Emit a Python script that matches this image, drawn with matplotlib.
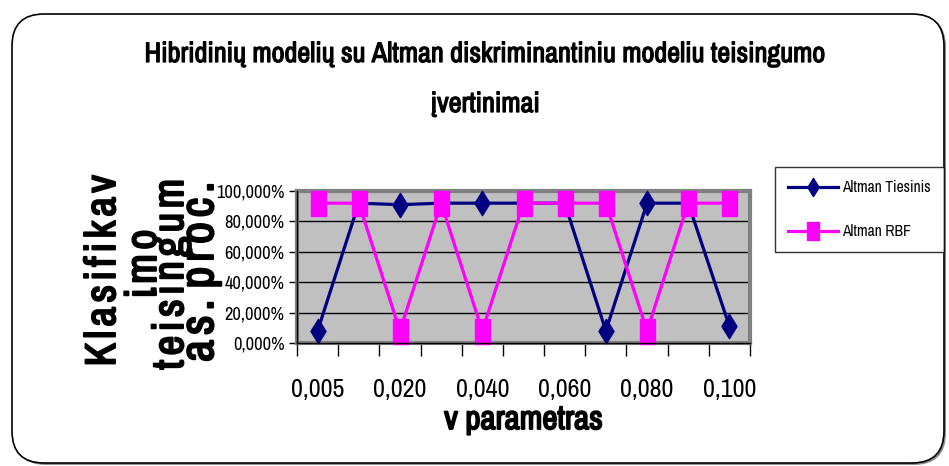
import numpy as np
import matplotlib
matplotlib.use("Agg")
import matplotlib.pyplot as plt
import matplotlib.patheffects as pe
from matplotlib import font_manager
from matplotlib.path import Path
from matplotlib.patches import FancyBboxPatch
from matplotlib.transforms import IdentityTransform
from matplotlib.ticker import FixedLocator, FuncFormatter

# categories of the v parameter and classification accuracy (%)
v_values = ["0,005", "0,010", "0,020", "0,030", "0,040", "0,050",
            "0,060", "0,070", "0,080", "0,090", "0,100"]
altman_tiesinis = [8, 92, 91, 92, 92, 92, 92, 8, 92, 92, 11]
altman_rbf = [92, 92, 8, 92, 8, 92, 92, 92, 8, 92, 92]
y_ticks = [0, 20, 40, 60, 80, 100]

title_lines = ["Hibridinių modelių su Altman diskriminantiniu modeliu teisingumo",
               "įvertinimai"]
# value-axis title, wrapped and letter-spaced with hair spaces
HS = "\u200a"
ylabel_lines = [HS.join("Klasifikav"), HS.join("imo"), HS.join("teisingum"),
                HS.join("as.") + " " + HS.join("proc.")]


def pick_font(names):
    for n in names:
        try:
            font_manager.findfont(font_manager.FontProperties(family=n),
                                  fallback_to_default=False)
            return n
        except ValueError:
            continue
    return "Liberation Sans"


FONT = pick_font(["Liberation Sans Narrow", "Arial Narrow", "Archivo Narrow",
                  "Roboto Condensed", "PT Sans Narrow", "Liberation Sans"])
plt.rcParams["font.family"] = [FONT, "DejaVu Sans"]

W, H = 949, 466
fig = plt.figure(figsize=(W / 100, H / 100), dpi=100)
renderer = fig.canvas.get_renderer()


def fx(x):
    return x / W


def fy(y):
    return 1 - y / H


def heavy(w):
    # thicken the narrow face, it has no bold variant here
    return [pe.withStroke(linewidth=w, foreground="black")]


def size_for(s, target, vertical=False, stroke=0):
    # font size that makes the string span `target` pixels
    t = fig.text(0, 0, s, fontsize=20, rotation=90 if vertical else 0)
    bb = t.get_window_extent(renderer)
    t.remove()
    return 20 * (target - stroke) / (bb.height if vertical else bb.width)


# rounded chart border with a soft shadow
shadow = FancyBboxPatch((14, H - 465), 932, 450,
                        boxstyle="round,pad=0,rounding_size=32",
                        transform=IdentityTransform(), fc="#909090", ec="none", zorder=-11)
frame = FancyBboxPatch((12, H - 463), 932, 449,
                       boxstyle="round,pad=0,rounding_size=32",
                       transform=IdentityTransform(), fc="white", ec="black",
                       lw=1.2, zorder=-10)
fig.add_artist(shadow)
fig.add_artist(frame)

ax = fig.add_axes([fx(297), fy(343), fx(750) - fx(297), fy(191) - fy(343)])
ax.set_facecolor("#C0C0C0")

# tall markers
diamond = Path([(0, -1), (0.62, 0), (0, 1), (-0.62, 0), (0, -1)],
               [Path.MOVETO, Path.LINETO, Path.LINETO, Path.LINETO, Path.CLOSEPOLY])
rect = Path([(-0.6, -1), (0.6, -1), (0.6, 1), (-0.6, 1), (-0.6, -1)],
            [Path.MOVETO, Path.LINETO, Path.LINETO, Path.LINETO, Path.CLOSEPOLY])

x = np.arange(len(v_values))
ax.plot(x, altman_tiesinis, color="#000080", lw=2.3, marker=diamond,
        markersize=17.5, label="Altman Tiesinis", zorder=3, clip_on=False)
ax.plot(x, altman_rbf, color="#FF00FF", lw=2.3, marker=rect,
        markersize=18, label="Altman RBF", zorder=4, clip_on=False)

ax.set_xlim(-0.5, len(v_values) - 0.5)
ax.set_ylim(0, 100)

ax.yaxis.set_major_locator(FixedLocator(y_ticks))
ax.yaxis.set_major_formatter(FuncFormatter(lambda v, p: f"{v:.3f}%".replace(".", ",")))
ax.grid(axis="y", color="black", lw=1.0)
ax.set_axisbelow(True)
ax.tick_params(axis="y", direction="out", length=6, width=1,
               labelsize=size_for("100,000%", 68), pad=3)

ax.set_xticks(x[::2])
ax.set_xticklabels(v_values[::2])
ax.set_xticks(np.arange(-0.5, len(v_values)), minor=True)
ax.tick_params(axis="x", which="major", length=0,
               labelsize=size_for("0,005", 54), pad=25)
ax.tick_params(axis="x", which="minor", direction="out", length=9, width=1)

# gray plot-area border, black value and category axes
for s in ax.spines.values():
    s.set_color("#808080")
    s.set_linewidth(3)
ax.plot([0, 0], [0, 1], transform=ax.transAxes, color="black", lw=1, clip_on=False, zorder=5)
ax.plot([0, 1], [0, 0], transform=ax.transAxes, color="black", lw=1, clip_on=False, zorder=5)

ax.set_xlabel("v parametras", fontsize=size_for("v parametras", 160, stroke=1.5),
              va="baseline", path_effects=heavy(1.3))
ax.xaxis.set_label_coords(fx(523.5), fy(429), transform=fig.transFigure)

# title on two lines
tsize = size_for(title_lines[0], 681, stroke=1)
fig.text(fx(485.5), fy(62), title_lines[0], ha="center", va="baseline",
         fontsize=tsize, path_effects=heavy(0.9))
fig.text(fx(485.5), fy(112), title_lines[1], ha="center", va="baseline",
         fontsize=tsize, path_effects=heavy(0.9))

# wrapped value-axis title
ypos = [(115, 271, 193), (156, 264, 70), (183, 274, 192), (213, 272, 181)]
for txt, (bx, cy, span) in zip(ylabel_lines, ypos):
    fig.text(fx(bx), fy(cy), txt, rotation=90, rotation_mode="anchor",
             ha="center", va="baseline", path_effects=heavy(1.4),
             fontsize=size_for(txt, span, vertical=True, stroke=1.5))

lsize = size_for("Altman Tiesinis", 89)
leg = ax.legend(loc="upper left", bbox_to_anchor=(fx(775), fy(167)),
                bbox_transform=fig.transFigure, fontsize=lsize, frameon=True,
                fancybox=False, edgecolor="black", borderpad=0.85, borderaxespad=0,
                handlelength=50 / (lsize * 100 / 72), handletextpad=0.25,
                labelspacing=1.85, markerscale=0.75)
leg.get_frame().set_linewidth(1)

fig.savefig("out.png", dpi=100)
